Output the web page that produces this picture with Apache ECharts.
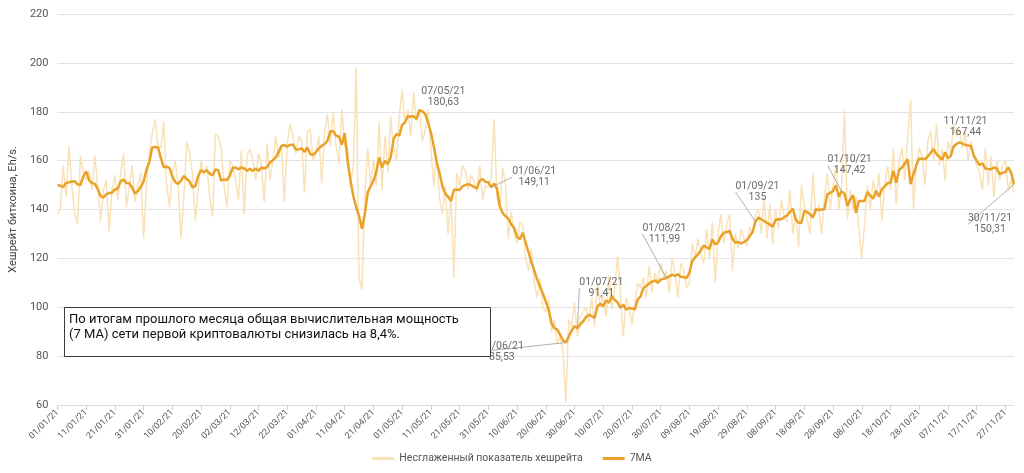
<!DOCTYPE html>
<html>
<head>
<meta charset="utf-8">
<script src="https://cdn.jsdelivr.net/npm/echarts@6/dist/echarts.min.js"></script>
<style>
html,body{margin:0;padding:0;background:#fff;}
#chart{width:1024px;height:473px;}
</style>
</head>
<body>
<div id="chart"></div>
<script>
// ---- DATA ----
const startDate = '2021-01-01';
const dayCount = 334;

const rawHash = [
138,140,158,145,166,150,138,134,162,155,
152,156,148,162,150,135,148,152,131,148,
154,144,155,163,141,149,158,143,150,155,
128,150,163,171,177,166,165,176,150,141,
155,160,150,128,145,168,163,155,135,148,
160,154,158,145,137,171,170,165,150,141,
160,158,152,144,164,138,162,165,160,152,
163,158,143,167,152,160,170,161,166,143,
167,175,170,163,170,168,147,172,173,160,
163,170,151,172,179,166,180,166,159,181,
166,165,150,158,198,112,107,145,165,150,
160,150,176,148,170,155,178,165,160,178,
189,175,181,170,188,176,181,168,172,181,
165,150,162,145,138,150,130,146,112,155,
150,158,156,148,154,152,147,158,144,150,
149,153,177,145,140,157,150,128,139,130,
126,135,133,120,115,124,110,104,112,100,
98,103,90,95,85,88,82,61,95,92,
102,88,96,98,100,94,104,92,110,100,
105,96,113,99,108,121,105,88,104,100,
93,102,110,108,112,104,117,106,114,110,
118,112,115,106,120,114,104,118,115,108,
110,126,120,128,122,118,132,120,135,110,
130,138,126,134,138,115,130,124,132,128,
125,133,130,138,140,130,145,128,142,126,
140,132,144,137,135,148,130,138,125,150,
142,136,130,155,138,142,130,145,155,140,
150,158,140,150,181,136,148,140,145,132,
120,135,150,140,152,145,155,135,150,158,
148,165,142,160,165,152,170,185,140,158,
165,162,150,168,172,160,175,158,165,152,
168,163,175,170,173,165,172,160,168,162,
158,155,148,165,150,162,145,160,152,158,
160,148,152,147
];

const ma7 = [
149.9,149.8,149.2,150.8,151.1,151.5,151.6,150.3,150.0,153.5,
155.6,152.0,150.8,150.5,148.5,145.5,144.9,146.2,146.8,146.9,
148.2,148.6,151.5,152.3,150.8,150.7,149.0,146.5,147.5,149.2,
151.5,156.3,159.5,165.4,165.6,165.5,161.0,157.3,157.5,157.0,
153.6,151.2,150.5,151.8,153.7,152.5,151.5,149.0,149.6,153.7,
156.1,155.2,156.1,154.6,154.0,156.4,156.0,151.8,152.3,152.1,
153.8,157.1,157.2,156.5,157.2,156.8,155.8,156.7,155.8,156.8,
155.8,157.2,156.8,157.3,159.3,160.2,161.3,163.6,166.1,166.4,
165.7,166.5,166.5,164.5,164.6,165.0,163.6,165.4,162.7,162.3,
163.6,165.0,166.1,166.8,168.1,172.0,172.0,170.2,169.9,166.5,
171.3,160.0,152.0,145.5,141.0,137.3,132.1,138.0,146.9,149.5,
151.7,155.4,161.3,157.2,159.9,158.6,161.3,168.8,170.9,170.2,
174.6,175.7,178.2,178.0,178.2,177.0,180.63,180.2,179.1,175.7,
171.6,166.0,159.5,155.0,149.5,146.5,145.3,143.5,148.0,148.2,
148.0,149.5,150.0,150.4,150.0,149.2,148.6,151.8,152.4,151.3,
151.2,149.11,150.6,148.5,141.5,138.5,137.3,136.2,133.9,132.5,
128.9,127.8,130.5,126.5,122.5,118.5,115.0,111.3,108.5,105.5,
102.4,99.0,93.5,91.5,90.8,88.7,86.5,85.53,88.0,90.5,
92.2,91.41,93.0,94.2,96.0,97.0,96.3,95.6,100.4,101.5,
100.4,102.8,101.8,104.5,103.0,102.0,99.7,101.1,99.0,99.7,
99.5,99.0,103.1,104.5,107.9,108.7,109.7,110.5,111.0,110.0,
111.3,111.6,111.99,112.6,113.4,112.8,113.5,112.5,112.3,112.0,
114.1,118.9,120.5,121.6,123.4,125.3,124.5,123.9,127.8,125.7,
126.5,129.1,130.5,130.8,131.2,128.0,126.4,126.7,126.1,126.7,
127.5,129.1,130.8,135.0,136.7,136.0,135.3,134.6,133.8,133.0,
135.7,136.0,136.0,136.8,137.6,139.0,140.4,136.0,134.6,134.6,
139.4,139.0,138.0,136.7,140.1,139.8,140.0,140.1,146.2,146.8,
147.6,149.9,145.3,147.42,146.5,141.4,144.2,145.8,138.7,143.5,
143.5,143.6,147.2,145.5,144.5,147.6,145.3,148.3,149.5,150.8,
150.8,155.8,151.0,156.2,157.2,158.8,160.6,150.4,154.5,158.2,
160.9,160.8,160.6,161.7,163.2,164.7,162.7,161.5,160.3,163.4,
160.9,162.0,165.8,166.8,167.44,167.0,166.4,166.2,166.1,162.0,
160.0,158.2,158.9,156.8,156.6,156.5,157.2,156.8,154.5,155.0,
155.4,157.2,155.1,150.31
];

const annDates = ['07/05/21','01/06/21','27/06/21','01/07/21','01/08/21','01/09/21','01/10/21','11/11/21','30/11/21'];
const annValues = [180.63,149.11,85.53,91.41,111.99,135,147.42,167.44,150.31];

const seriesNames = ['Несглаженный показатель хешрейта', '7MA'];
const yAxisName = 'Хешрейт биткоина, Eh/s.';
const noteLines = ['По итогам прошлого месяца общая вычислительная мощность', '(7 MA) сети первой криптовалюты снизилась на 8,4%.'];

// ---- categories (dd/mm/yy) ----
const categories = [];
(function(){
  const d0 = new Date(startDate + 'T00:00:00Z');
  for (let i = 0; i < dayCount; i++) {
    const d = new Date(d0.getTime() + i * 86400000);
    const dd = String(d.getUTCDate()).padStart(2,'0');
    const mm = String(d.getUTCMonth()+1).padStart(2,'0');
    const yy = String(d.getUTCFullYear()).slice(2);
    categories.push(dd + '/' + mm + '/' + yy);
  }
})();

// label layout (style): offset of each annotation label centre from its point, and whether a leader line is drawn
const annLayout = [
  {dx: 24, dy: -13, line: false},
  {dx: 43, dy: -10, line: true},
  {dx: -64, dy: 9, line: true},
  {dx: 24, dy: -40, line: true},
  {dx: -2, dy: -44, line: true},
  {dx: 2, dy: -30, line: true},
  {dx: 8, dy: -26, line: true},
  {dx: 6, dy: -16, line: false},
  {dx: -24, dy: 40, line: true}
];

const fmt = v => String(v).replace('.', ',');

const chart = echarts.init(document.getElementById('chart'), null, {renderer: 'canvas'});
const FONT = 'Roboto, "Noto Sans", sans-serif';

chart.setOption({
  animation: false,
  backgroundColor: '#fff',
  textStyle: {fontFamily: FONT},
  grid: {left: 44, right: 10, top: 14, bottom: 68, containLabel: false},
  legend: {
    bottom: 4,
    left: 'center',
    itemWidth: 22,
    itemHeight: 3,
    itemGap: 20,
    icon: 'rect',
    textStyle: {fontSize: 10.5, color: '#555', fontFamily: FONT},
    data: seriesNames
  },
  xAxis: {
    type: 'category',
    data: categories,
    boundaryGap: false,
    axisLine: {lineStyle: {color: '#dcdcdc'}},
    axisTick: {show: true, interval: 9, length: 5, lineStyle: {color: '#cfcfcf'}},
    axisLabel: {interval: 9, rotate: 45, fontSize: 9, color: '#555', margin: 6, fontFamily: FONT},
    splitLine: {show: false}
  },
  yAxis: {
    type: 'value',
    min: 60, max: 220, interval: 20,
    name: yAxisName,
    nameLocation: 'middle',
    nameGap: 31,
    nameTextStyle: {fontSize: 11, color: '#444', fontFamily: FONT},
    axisLine: {show: false},
    axisTick: {show: false},
    axisLabel: {fontSize: 11, color: '#555', margin: 9, fontFamily: FONT},
    splitLine: {lineStyle: {color: '#e3e3e3', width: 1}}
  },
  series: [
    {
      name: seriesNames[0],
      type: 'line',
      data: rawHash,
      showSymbol: false,
      symbol: 'none',
      lineStyle: {color: '#f9e2b8', width: 1.5},
      itemStyle: {color: '#f9e2b8'},
      z: 1
    },
    {
      name: seriesNames[1],
      type: 'line',
      data: ma7,
      showSymbol: false,
      symbol: 'none',
      lineStyle: {color: '#e9a127', width: 2.5},
      itemStyle: {color: '#e9a127'},
      z: 3
    },
    {
      name: 'ann',
      type: 'scatter',
      data: annDates.map((d, i) => ({
        value: [d, annValues[i]],
        labelLine: {show: annLayout[i].line}
      })),
      symbolSize: 0,
      silent: true,
      z: 5,
      label: {
        show: true,
        position: 'inside',
        formatter: p => annDates[p.dataIndex] + '\n' + fmt(annValues[p.dataIndex]),
        fontSize: 10.5,
        lineHeight: 11,
        color: '#444',
        fontFamily: FONT,
        align: 'center',
        verticalAlign: 'middle'
      },
      labelLine: {show: true, lineStyle: {color: '#9a9a9a', width: 0.8}},
      labelLayout: p => ({dx: annLayout[p.dataIndex].dx, dy: annLayout[p.dataIndex].dy})
    }
  ],
  graphic: [
    {type: 'rect', z: 100, shape: {x: 64.5, y: 307.5, width: 426, height: 49},
     style: {fill: '#fff', stroke: '#3a3a3a', lineWidth: 1}},
    {type: 'text', z: 101, x: 69, y: 320, style: {text: noteLines[0], fontSize: 13, fill: '#111', fontFamily: FONT, verticalAlign: 'middle'}},
    {type: 'text', z: 101, x: 69, y: 335, style: {text: noteLines[1], fontSize: 13, fill: '#111', fontFamily: FONT, verticalAlign: 'middle'}}
  ]
});
</script>
</body>
</html>
